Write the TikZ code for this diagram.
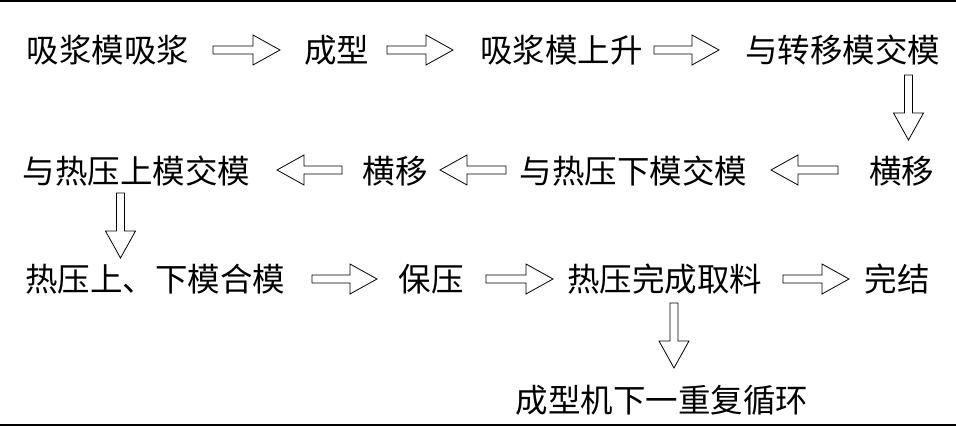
\documentclass[tikz,border=0pt]{standalone}
\usepackage{fontspec}
\newfontfamily\cjk{Noto Sans CJK SC}
\usetikzlibrary{calc}
\tikzset{
  lbl/.style={inner sep=0pt, font=\cjk\fontsize{32.5}{32.5}\selectfont},
  blk/.style={draw=black, line width=0.8pt, fill=white, line join=miter},
  rule/.style={line width=1.5pt}
}
\newcommand\blockarrow[2]{%
  \coordinate (tmpc) at ($(#2)!27pt!(#1)$);
  \draw[blk] ($(#1)!4pt!90:(#2)$) -- ($(tmpc)!4pt!90:(#2)$) -- ($(tmpc)!15pt!90:(#2)$)
    -- (#2) -- ($(tmpc)!15pt!-90:(#2)$) -- ($(tmpc)!4pt!-90:(#2)$) -- ($(#1)!4pt!-90:(#2)$) -- cycle;}
\begin{document}
\begin{tikzpicture}[x=1pt,y=-1pt]
\useasboundingbox (0,0) rectangle (956,426);
\coordinate (tl) at (0,0.75); \coordinate (tr) at (956,0.75);
\coordinate (bl) at (0,425); \coordinate (br) at (956,425);
\draw[rule] (tl) -- (tr);
\draw[rule] (bl) -- (br);
% row 1
\node[lbl] (n1) at (108,50) {吸浆模吸浆};
\node[lbl] (n2) at (336.5,50) {成型};
\node[lbl] (n3) at (561.5,50) {吸浆模上升};
\node[lbl] (n4) at (842.5,50) {与转移模交模};
% row 2
\node[lbl] (n5) at (901.5,171) {横移};
\node[lbl] (n6) at (633.5,171) {与热压下模交模};
\node[lbl] (n7) at (395,171) {横移};
\node[lbl] (n8) at (136.5,171) {与热压上模交模};
% row 3
\node[lbl] (n9) at (155,279) {热压上、下模合模};
\node[lbl] (n10) at (431,279) {保压};
\node[lbl] (n11) at (664.5,279) {热压完成取料};
\node[lbl] (n12) at (897,279) {完结};
\node[lbl] (n13) at (662,400) {成型机下一重复循环};
% arrow end points
\coordinate (a1s) at (213,50);  \coordinate (a1e) at (280,50);
\coordinate (a2s) at (387,50);  \coordinate (a2e) at (453,50);
\coordinate (a3s) at (654,50);  \coordinate (a3e) at (719,50);
\coordinate (d1s) at (908.5,75); \coordinate (d1e) at (908.5,140);
\coordinate (l1s) at (838,170); \coordinate (l1e) at (771,170);
\coordinate (l2s) at (506,170); \coordinate (l2e) at (440,170);
\coordinate (l3s) at (342,170); \coordinate (l3e) at (277,170);
\coordinate (d2s) at (120.5,193); \coordinate (d2e) at (120.5,258);
\coordinate (r1s) at (312,279); \coordinate (r1e) at (377,279);
\coordinate (r2s) at (486,279); \coordinate (r2e) at (553,279);
\coordinate (r3s) at (783,279); \coordinate (r3e) at (849,279);
\coordinate (d3s) at (674,303); \coordinate (d3e) at (674,368);
\blockarrow{a1s}{a1e}
\blockarrow{a2s}{a2e}
\blockarrow{a3s}{a3e}
\blockarrow{d1s}{d1e}
\blockarrow{l1s}{l1e}
\blockarrow{l2s}{l2e}
\blockarrow{l3s}{l3e}
\blockarrow{d2s}{d2e}
\blockarrow{r1s}{r1e}
\blockarrow{r2s}{r2e}
\blockarrow{r3s}{r3e}
\blockarrow{d3s}{d3e}
\end{tikzpicture}
\end{document}
